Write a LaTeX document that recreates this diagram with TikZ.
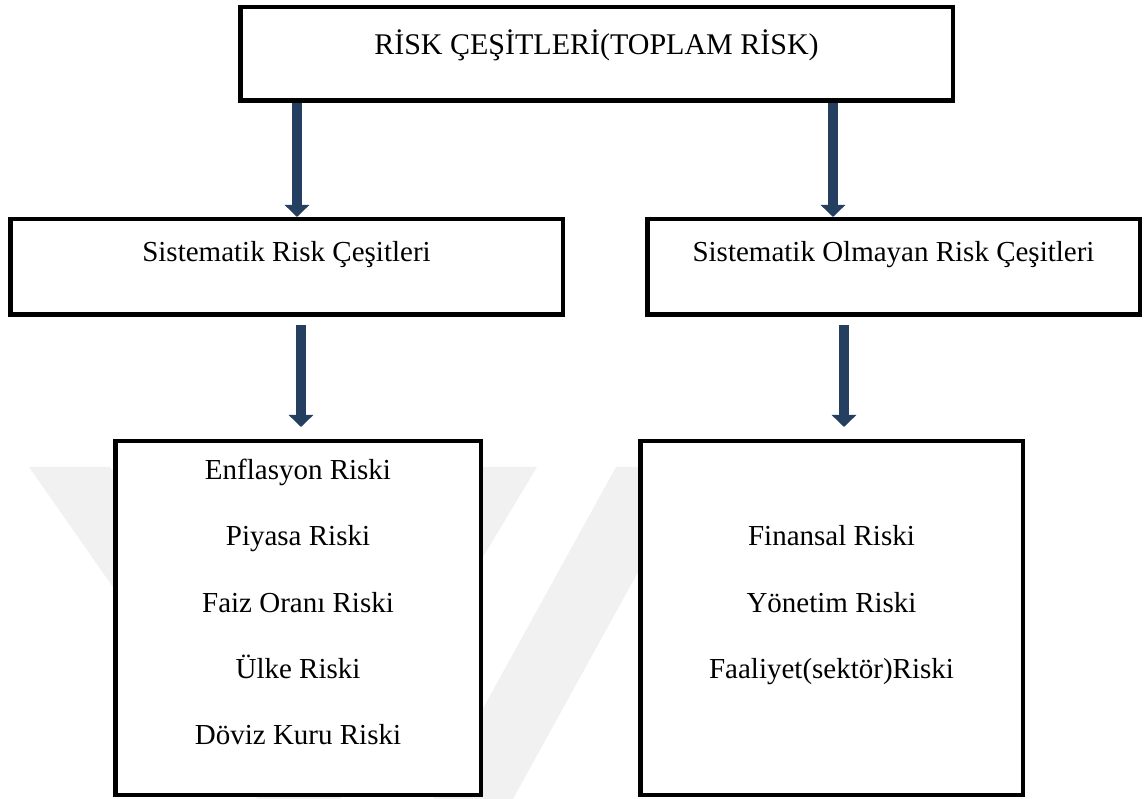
\documentclass[tikz,border=0pt]{standalone}
\usepackage{fontspec}
\setmainfont{Liberation Serif}
\usetikzlibrary{arrows.meta}
\definecolor{arrowblue}{RGB}{36,63,96}
\definecolor{wmgray}{RGB}{241,241,241}
\tikzset{
  box/.style={draw=black, line width=4.5pt, fill=white, rectangle, inner sep=0pt},
  lbl/.style={anchor=base, inner sep=0pt, font=\fontsize{29}{35}\selectfont},
  bigarrow/.style={draw=arrowblue, line width=10pt, -{Triangle[width=24pt,length=12pt]}},
  wm/.style={fill=wmgray, draw=none}
}
\begin{document}
\begin{tikzpicture}[x=1pt,y=-1pt]
\useasboundingbox (0,0) rectangle (1144,799);
% faint watermark
\fill[wm] (29,467) -- (110,467) -- (342,799) -- (261,799) -- cycle;
\fill[wm] (455,467) -- (537,467) -- (338,799) -- (256,799) -- cycle;
\fill[wm] (616,467) -- (696,467) -- (513,799) -- (433,799) -- cycle;
% boxes
\node[box, minimum width=712.5pt, minimum height=93.5pt] (top) at (596.5,54) {};
\node[box, minimum width=552.5pt, minimum height=95.5pt] (mid1) at (286.5,267) {};
\node[box, minimum width=492.5pt, minimum height=95.5pt] (mid2) at (893.5,267) {};
\node[box, minimum width=365.5pt, minimum height=353.5pt] (bot1) at (298,618) {};
\node[box, minimum width=382.5pt, minimum height=353.5pt] (bot2) at (831.5,618) {};
% texts
\node[lbl, font=\fontsize{30}{36}\selectfont] (ttop) at (596.5,55) {RİSK ÇEŞİTLERİ(TOPLAM RİSK)};
\node[lbl] (tmid1) at (286.5,262) {Sistematik Risk Çeşitleri};
\node[lbl] (tmid2) at (893.5,262) {Sistematik Olmayan Risk Çeşitleri};
\node[lbl] (l1) at (298,480) {Enflasyon Riski};
\node[lbl] (l2) at (298,546) {Piyasa Riski};
\node[lbl] (l3) at (298,612) {Faiz Oranı Riski};
\node[lbl] (l4) at (298,678) {Ülke Riski};
\node[lbl] (l5) at (298,744) {Döviz Kuru Riski};
\node[lbl] (r1) at (831.5,546) {Finansal Riski};
\node[lbl] (r2) at (831.5,612) {Yönetim Riski};
\node[lbl] (r3) at (831.5,678) {Faaliyet(sektör)Riski};
% arrow columns
\coordinate (c1) at (297,0);
\coordinate (c2) at (833,0);
\coordinate (c3) at (301,0);
\coordinate (c4) at (844,0);
% arrows
\draw[bigarrow] (top.south -| c1) -- (mid1.north -| c1);
\draw[bigarrow] (top.south -| c2) -- (mid2.north -| c2);
\draw[bigarrow, shorten <=8pt, shorten >=12pt] (mid1.south -| c3) -- (bot1.north -| c3);
\draw[bigarrow, shorten <=8pt, shorten >=12pt] (mid2.south -| c4) -- (bot2.north -| c4);
\end{tikzpicture}
\end{document}
